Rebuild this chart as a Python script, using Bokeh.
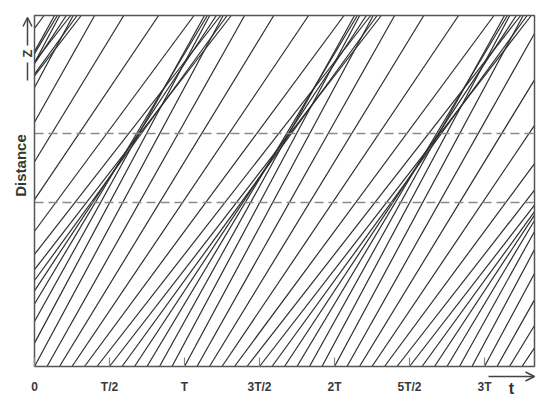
from bokeh.plotting import figure
from bokeh.models import Range1d, Arrow, OpenHead, ColumnDataSource
from bokeh.core.properties import value
from bokeh.embed import file_html
from bokeh.resources import INLINE

# ---- data ----
tick_pos = [0, 0.5, 1, 1.5, 2, 2.5, 3]
tick_labels = ["0", "T/2", "T", "3T/2", "2T", "5T/2", "3T"]
# launch phase step within one period (each step = T/12)
launch_step = [0, 1, 2, 3, 4, 5, 6, 7, 8, 9, 10, 11]
# speed (distance units per T) of the electron launched at each step
speed = [0.795, 0.759, 0.700, 0.634, 0.578, 0.548, 0.552, 0.588, 0.647, 0.713, 0.769, 0.799]
periods = [-2, -1, 0, 1, 2, 3]
dashed_levels = [0.467, 0.664]
t_max = 10 / 3
z_max = 1.0

# ---- layout (pixel mapping of the frame) ----
W, H = 548, 403
X0, PX_T = 34.0, 150.0     # x pixel of t=0, pixels per T
Y0, PX_Z = 366.0, 351.0    # y pixel of z=0, pixels per distance unit
def tx(px): return (px - X0) / PX_T
def zy(py): return (Y0 - py) / PX_Z

# clipped trajectories
x0s, y0s, x1s, y1s = [], [], [], []
for n in periods:
    for k, v in zip(launch_step, speed):
        t0 = n + k / 12
        if t0 > t_max:
            continue
        ts = max(t0, 0.0)
        zs = (ts - t0) * v
        if zs >= z_max:
            continue
        te = t0 + z_max / v
        if te > t_max:
            te = t_max
        ze = (te - t0) * v
        x0s.append(ts); y0s.append(zs); x1s.append(te); y1s.append(ze)
src = ColumnDataSource(dict(x0=x0s, y0=y0s, x1=x1s, y1=y1s))

p = figure(width=W, height=H, output_backend="svg", toolbar_location=None,
           x_range=Range1d(tx(0), tx(W)), y_range=Range1d(zy(H), zy(0)),
           min_border=0, x_axis_location=None, y_axis_location=None)
p.grid.visible = False
p.outline_line_color = None
p.background_fill_color = "white"
p.border_fill_color = "white"

p.segment("x0", "y0", "x1", "y1", source=src, line_color="#2e2e2e", line_width=1.2)

# dashed levels
p.segment(x0=[0] * len(dashed_levels), y0=dashed_levels,
          x1=[t_max] * len(dashed_levels), y1=dashed_levels,
          line_color="#8a8a8a", line_dash="9 5", line_width=1.5)

# frame box
p.line([0, t_max, t_max, 0, 0], [0, 0, z_max, z_max, 0], line_color="#555555", line_width=1.5)

# ticks (inside, upward)
p.segment(x0=tick_pos, y0=[0] * len(tick_pos), x1=tick_pos, y1=[9 / PX_Z] * len(tick_pos),
          line_color="#888888", line_width=1.2)
p.text(x=tick_pos, y=[zy(386)] * len(tick_pos), text=tick_labels,
       text_align="center", text_baseline="middle",
       text_font=value("Liberation Sans"), text_font_style="bold",
       text_font_size="12px", text_color="#3a3a3a")

# axis titles and arrows
p.text(x=[tx(20)], y=[zy(165)], text=["Distance"], angle=1.5708,
       text_align="center", text_baseline="middle",
       text_font=value("Liberation Sans"), text_font_style="bold",
       text_font_size="15px", text_color="#2f3a30")
p.text(x=[tx(511)], y=[zy(388)], text=["t"],
       text_align="center", text_baseline="middle",
       text_font=value("Liberation Sans"), text_font_style="bold",
       text_font_size="16px", text_color="#333333")
p.text(x=[tx(27)], y=[zy(53)], text=["Z"], angle=1.5708,
       text_align="center", text_baseline="middle",
       text_font=value("Liberation Sans"), text_font_style="bold",
       text_font_size="13px", text_color="#2f3a30")
# vertical arrow, interrupted by the "Z"
p.segment(x0=[tx(27)], y0=[zy(80)], x1=[tx(27)], y1=[zy(62)],
          line_color="#444444", line_width=1.5)
p.add_layout(Arrow(x_start=tx(27), y_start=zy(45), x_end=tx(27), y_end=zy(17),
                   line_color="#444444", line_width=1.5,
                   end=OpenHead(size=9, line_color="#444444", line_width=1.5)))
p.add_layout(Arrow(x_start=tx(488), y_start=zy(376), x_end=tx(534), y_end=zy(376),
                   line_color="#444444", line_width=1.5,
                   end=OpenHead(size=9, line_color="#444444", line_width=1.5)))

open("out.html", "w").write(file_html(p, INLINE))
